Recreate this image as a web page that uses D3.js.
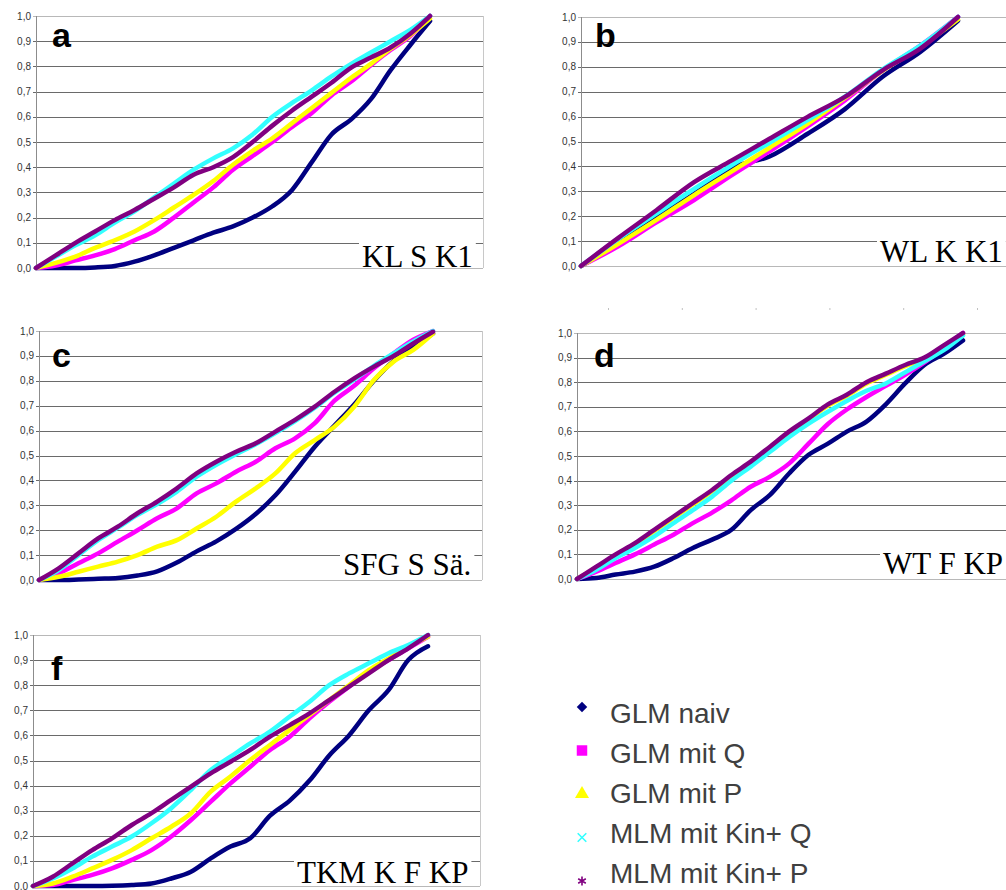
<!DOCTYPE html>
<html>
<head>
<meta charset="utf-8">
<script src="https://cdn.jsdelivr.net/npm/d3@7"></script>
<style>
  body { margin: 0; background: #fff; }
  svg { display: block; }
</style>
</head>
<body>
<svg id="chart" width="1006" height="890"></svg>
<script>
// series (same order in every panel)
const seriesNames = ["GLM naiv", "GLM mit Q", "GLM mit P", "MLM mit Kin+ Q", "MLM mit Kin+ P"];
const seriesColors = ["#000080", "#ff00ff", "#ffff00", "#33ffff", "#800080"];

const yTicks = [0, 0.1, 0.2, 0.3, 0.4, 0.5, 0.6, 0.7, 0.8, 0.9, 1.0];
const yTickLabels = ["0,0", "0,1", "0,2", "0,3", "0,4", "0,5", "0,6", "0,7", "0,8", "0,9", "1,0"];

const panelLetters = ["a", "b", "c", "d", "f"];
const panelTitles = ["KL S K1", "WL K K1", "SFG S Sä.", "WT F KP", "TKM K F KP"];

// panel a
const aNaiv = [0, 0, 0, 0.002, 0.008, 0.025, 0.05, 0.08, 0.11, 0.14, 0.165, 0.2, 0.245, 0.31, 0.42, 0.53, 0.59, 0.67, 0.785, 0.885, 0.98];
const aQ    = [0, 0.01, 0.03, 0.05, 0.075, 0.11, 0.145, 0.2, 0.26, 0.32, 0.39, 0.445, 0.5, 0.56, 0.615, 0.685, 0.74, 0.805, 0.865, 0.92, 1.0];
const aP    = [0, 0.02, 0.045, 0.08, 0.11, 0.145, 0.19, 0.24, 0.29, 0.345, 0.41, 0.465, 0.515, 0.575, 0.635, 0.695, 0.755, 0.81, 0.87, 0.925, 0.99];
const aKinQ = [0, 0.045, 0.09, 0.13, 0.18, 0.225, 0.28, 0.335, 0.39, 0.435, 0.475, 0.53, 0.6, 0.655, 0.705, 0.76, 0.81, 0.855, 0.9, 0.945, 1.0];
const aKinP = [0, 0.05, 0.1, 0.145, 0.19, 0.23, 0.275, 0.32, 0.37, 0.4, 0.44, 0.5, 0.565, 0.625, 0.68, 0.735, 0.795, 0.835, 0.875, 0.93, 1.0];

// panel b
const bNaiv = [0, 0.09, 0.195, 0.29, 0.395, 0.44, 0.53, 0.63, 0.76, 0.86, 0.985];
const bQ    = [0, 0.08, 0.175, 0.265, 0.365, 0.46, 0.56, 0.665, 0.785, 0.885, 1.0];
const bP    = [0, 0.09, 0.185, 0.285, 0.38, 0.475, 0.57, 0.675, 0.785, 0.88, 0.99];
const bKinQ = [0, 0.11, 0.21, 0.31, 0.405, 0.495, 0.585, 0.68, 0.79, 0.885, 1.0];
const bKinP = [0, 0.114, 0.224, 0.337, 0.424, 0.511, 0.598, 0.679, 0.786, 0.873, 1.0];

// panel c
const cNaiv = [0, 0, 0.002, 0.005, 0.008, 0.018, 0.035, 0.07, 0.115, 0.155, 0.205, 0.265, 0.34, 0.435, 0.535, 0.62, 0.705, 0.8, 0.88, 0.935, 0.99];
const cQ    = [0, 0.027, 0.067, 0.107, 0.154, 0.2, 0.248, 0.288, 0.348, 0.388, 0.435, 0.475, 0.529, 0.569, 0.63, 0.72, 0.78, 0.85, 0.91, 0.965, 1.0];
const cP    = [0, 0.013, 0.033, 0.054, 0.074, 0.1, 0.134, 0.16, 0.207, 0.254, 0.315, 0.368, 0.428, 0.509, 0.562, 0.616, 0.696, 0.803, 0.877, 0.924, 0.99];
const cKinQ = [0, 0.04, 0.1, 0.16, 0.21, 0.262, 0.305, 0.355, 0.415, 0.463, 0.505, 0.545, 0.59, 0.638, 0.692, 0.752, 0.805, 0.86, 0.91, 0.958, 1.0];
const cKinP = [0, 0.047, 0.107, 0.167, 0.214, 0.268, 0.315, 0.368, 0.428, 0.475, 0.515, 0.549, 0.596, 0.643, 0.696, 0.756, 0.81, 0.857, 0.9, 0.95, 0.997];

// panel d
const dNaiv = [0, 0.004, 0.018, 0.03, 0.05, 0.085, 0.126, 0.16, 0.2, 0.28, 0.342, 0.43, 0.505, 0.55, 0.6, 0.64, 0.71, 0.795, 0.87, 0.915, 0.97];
const dQ    = [0, 0.03, 0.065, 0.1, 0.14, 0.18, 0.227, 0.27, 0.32, 0.375, 0.416, 0.47, 0.55, 0.63, 0.69, 0.74, 0.785, 0.83, 0.88, 0.94, 1.0];
const dP    = [0, 0.045, 0.095, 0.14, 0.195, 0.248, 0.302, 0.357, 0.418, 0.472, 0.532, 0.594, 0.648, 0.705, 0.745, 0.795, 0.83, 0.865, 0.895, 0.945, 0.995];
const dKinQ = [0, 0.038, 0.085, 0.126, 0.173, 0.227, 0.28, 0.335, 0.4, 0.457, 0.517, 0.578, 0.632, 0.68, 0.725, 0.765, 0.795, 0.84, 0.885, 0.93, 0.99];
const dKinP = [0, 0.05, 0.1, 0.146, 0.2, 0.254, 0.308, 0.362, 0.423, 0.477, 0.538, 0.6, 0.653, 0.71, 0.75, 0.8, 0.835, 0.87, 0.9, 0.95, 1.0];

// panel f
const fNaiv = [0, 0, 0, 0, 0.001, 0.004, 0.01, 0.03, 0.057, 0.11, 0.157, 0.19, 0.28, 0.34, 0.42, 0.52, 0.6, 0.7, 0.78, 0.9, 0.955];
const fQ    = [0, 0.004, 0.024, 0.044, 0.07, 0.104, 0.143, 0.197, 0.263, 0.336, 0.409, 0.475, 0.542, 0.595, 0.668, 0.734, 0.794, 0.854, 0.9, 0.947, 0.993];
const fP    = [0, 0.01, 0.037, 0.07, 0.104, 0.143, 0.19, 0.236, 0.29, 0.376, 0.436, 0.502, 0.562, 0.622, 0.681, 0.741, 0.8, 0.86, 0.907, 0.954, 0.993];
const fKinQ = [0, 0.03, 0.07, 0.117, 0.157, 0.197, 0.25, 0.31, 0.383, 0.462, 0.515, 0.568, 0.615, 0.675, 0.734, 0.8, 0.847, 0.887, 0.927, 0.96, 1.0];
const fKinP = [0, 0.037, 0.09, 0.143, 0.19, 0.243, 0.29, 0.343, 0.396, 0.449, 0.495, 0.542, 0.595, 0.641, 0.688, 0.741, 0.794, 0.847, 0.9, 0.947, 1.0];

const panelData = [
    [aNaiv, aQ, aP, aKinQ, aKinP],
    [bNaiv, bQ, bP, bKinQ, bKinP],
    [cNaiv, cQ, cP, cKinQ, cKinP],
    [dNaiv, dQ, dP, dKinQ, dKinP],
    [fNaiv, fQ, fP, fKinQ, fKinP]
];

// layout of each plot box (left, top, bottom, right edge, where curves end) + label spots
const layout = [
    { l: 36,  t: 16,  b: 268, r: 483,  e: 430, lx: 52,  ly: 47,  tx: 362, ty: 267 },
    { l: 581, t: 17,  b: 266, r: 1010, e: 958, lx: 595, ly: 47,  tx: 880, ty: 262 },
    { l: 39,  t: 331, b: 580, r: 482,  e: 433, lx: 52,  ly: 367, tx: 343, ty: 575 },
    { l: 577, t: 333, b: 579, r: 1010, e: 963, lx: 594, ly: 367, tx: 883, ty: 574 },
    { l: 33,  t: 635, b: 886, r: 480,  e: 428, lx: 51,  ly: 680, tx: 297, ty: 883 }
];

const svg = d3.select("#chart");

panelData.forEach((series, p) => {
    const box = layout[p];
    const x = d3.scaleLinear().domain([0, 1]).range([box.l, box.e]);
    const y = d3.scaleLinear().domain([0, 1]).range([box.b, box.t]);
    const g = svg.append("g");

    // horizontal grid lines
    g.selectAll("line.grid")
        .data(yTicks)
        .enter().append("line")
        .attr("x1", box.l - 3)
        .attr("x2", box.r)
        .attr("y1", d => Math.round(y(d)) + 0.5)
        .attr("y2", d => Math.round(y(d)) + 0.5)
        .attr("stroke", (d, i) => (i === 0 || i === yTicks.length - 1) ? "#b8b8b8" : "#6a6a6a")
        .attr("stroke-width", 1);

    // right border and left axis
    g.append("line")
        .attr("x1", box.r + 0.5).attr("x2", box.r + 0.5)
        .attr("y1", y(1)).attr("y2", y(0))
        .attr("stroke", "#c8c8c8");
    g.append("line")
        .attr("x1", box.l + 0.5).attr("x2", box.l + 0.5)
        .attr("y1", y(1)).attr("y2", y(0) + 1)
        .attr("stroke", "#8c8c8c");

    // tick labels
    g.selectAll("text.tick")
        .data(yTicks)
        .enter().append("text")
        .attr("x", box.l - 5)
        .attr("y", d => y(d) + 3.5)
        .attr("text-anchor", "end")
        .attr("font-family", "Liberation Sans, Arial, sans-serif")
        .attr("font-size", 10)
        .attr("fill", "#333")
        .text((d, i) => yTickLabels[i]);

    // curves
    const line = d3.line()
        .x((d, i, arr) => x(i / (arr.length - 1)))
        .y(d => y(d))
        .curve(d3.curveMonotoneX);

    g.selectAll("path.curve")
        .data(series)
        .enter().append("path")
        .attr("d", d => line(d))
        .attr("fill", "none")
        .attr("stroke", (d, i) => seriesColors[i])
        .attr("stroke-width", 4.5)
        .attr("stroke-linejoin", "round")
        .attr("stroke-linecap", "round");

    // panel letter
    g.append("text")
        .attr("x", box.lx)
        .attr("y", box.ly)
        .attr("font-family", "Liberation Sans, Arial, sans-serif")
        .attr("font-weight", "bold")
        .attr("font-size", 34)
        .attr("fill", "#000")
        .text(panelLetters[p]);

    // panel title, white box behind it
    const title = g.append("text")
        .attr("x", box.tx)
        .attr("y", box.ty)
        .attr("font-family", "Liberation Serif, Times New Roman, serif")
        .attr("font-size", 31)
        .attr("fill", "#000")
        .text(panelTitles[p]);
    const bb = title.node().getBBox();
    g.insert("rect", "text:last-child")
        .attr("x", bb.x - 3)
        .attr("y", box.ty - 24)
        .attr("width", bb.width + 6)
        .attr("height", 23)
        .attr("fill", "#fff");
});

// faint tick marks above panel d (remains of an axis)
const dTopTicks = d3.range(6);
const tickX = d3.scaleLinear().domain([0, 5]).range([608, 977]);
svg.selectAll("rect.topTick")
    .data(dTopTicks)
    .enter().append("rect")
    .attr("x", d => tickX(d))
    .attr("y", 308)
    .attr("width", 1)
    .attr("height", 2)
    .attr("fill", "#c0c0c0");

// legend
const legendMarkY = d3.scaleLinear().domain([0, 4]).range([707, 881]);
const legendTextY = d3.scaleLinear().domain([0, 4]).range([723, 883]);
const symbols = [
    d3.symbol().type(d3.symbolSquare).size(55),
    d3.symbol().type(d3.symbolSquare).size(110),
    d3.symbol().type(d3.symbolTriangle).size(85),
    d3.symbol().type(d3.symbolTimes || d3.symbolCross).size(50),
    d3.symbol().type(d3.symbolAsterisk || d3.symbolCross).size(55)
];

const legend = svg.append("g");
seriesNames.forEach((name, i) => {
    const stroked = i >= 3;
    legend.append("path")
        .attr("transform", `translate(582,${legendMarkY(i)})` + (i === 0 ? " rotate(45)" : ""))
        .attr("d", symbols[i]())
        .attr("fill", stroked ? "none" : seriesColors[i])
        .attr("stroke", stroked ? seriesColors[i] : "none")
        .attr("stroke-width", 1.6);
    legend.append("text")
        .attr("x", 610)
        .attr("y", legendTextY(i))
        .attr("font-family", "Liberation Sans, Arial, sans-serif")
        .attr("font-size", 28)
        .attr("fill", "#404040")
        .text(name);
});
</script>
</body>
</html>
